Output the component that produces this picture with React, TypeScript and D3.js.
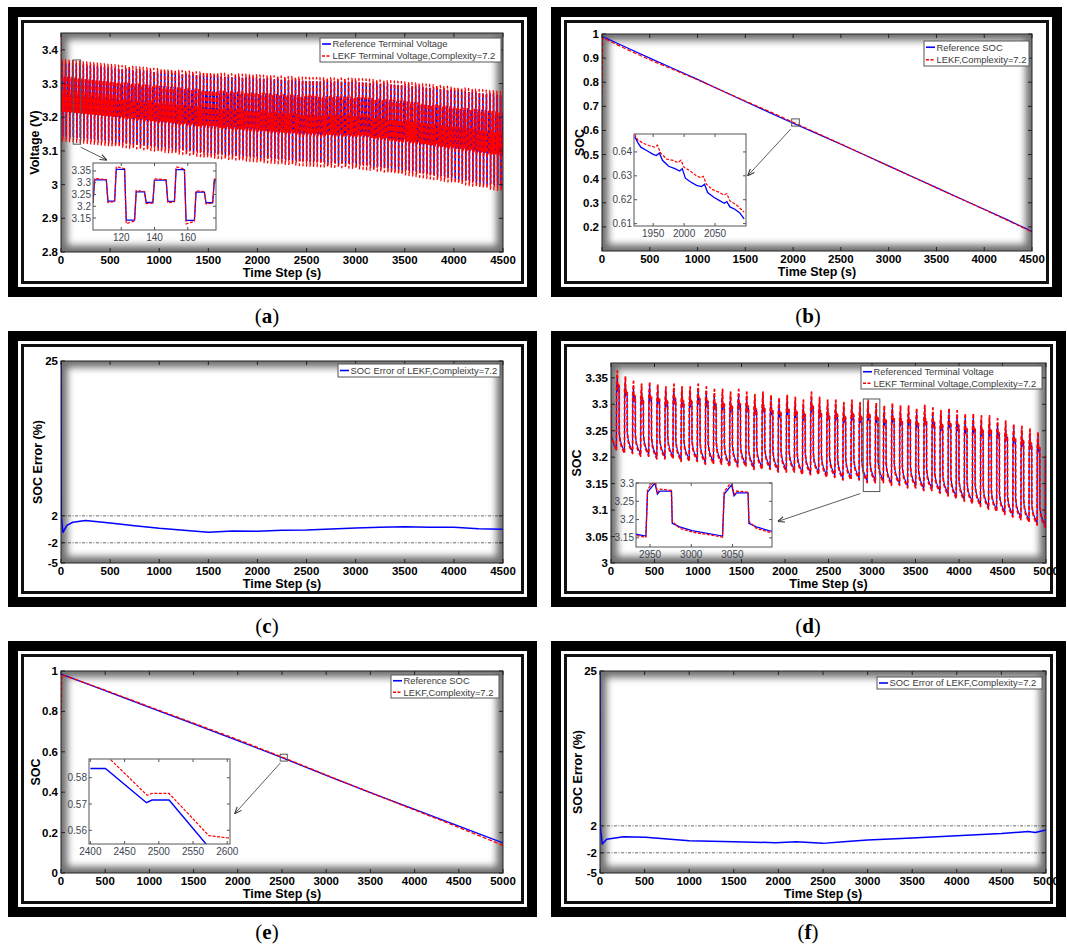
import * as d3 from "d3";
import { useEffect } from "react";

type Pt = [number, number];

// ---------- (a) terminal voltage, 4500 s test ----------
const voltA_t = [0, 500, 1000, 1500, 2000, 2500, 3000, 3500, 4000, 4500];
const voltA_mid = [3.245, 3.23, 3.215, 3.2, 3.19, 3.18, 3.175, 3.16, 3.14, 3.12];
const voltA_swing = [1, 1, 1.02, 1.05, 1.08, 1.1, 1.12, 1.16, 1.2, 1.25];
// one 36 s pulse: level offset from the mid band and duration (s)
const pulseA_offset = [0.07, -0.02, 0.115, -0.1, 0.02, -0.025];
const pulseA_dur = [8, 5, 6, 6, 6, 5];
const pulseA_lekf = [0.006, -0.006, 0.012, -0.015, 0.006, -0.005];
const pulseA_first = -4;

// ---------- (b) SOC, 4500 s test ----------
const socB_t = [0, 250, 500, 750, 1000, 1250, 1500, 1750, 2000, 2250, 2500, 2750, 3000, 3250, 3500, 3750, 4000, 4250, 4500];
const socB_ref = [0.99, 0.945, 0.9, 0.856, 0.812, 0.766, 0.72, 0.675, 0.63, 0.587, 0.543, 0.498, 0.453, 0.408, 0.363, 0.318, 0.273, 0.228, 0.181];
const socB_lekfT = [0, 8, 250, 500, 750, 1000, 1250, 1500, 1750, 2000, 2250, 2500, 2750, 3000, 3250, 3500, 3750, 4000, 4250, 4500];
const socB_lekf = [0.75, 0.985, 0.938, 0.893, 0.852, 0.81, 0.766, 0.722, 0.679, 0.634, 0.589, 0.544, 0.498, 0.452, 0.407, 0.362, 0.317, 0.272, 0.226, 0.179];
const zoomB_refT = [1920, 1925, 1930, 1940, 1950, 1955, 1960, 1965, 1975, 1985, 1993, 1997, 2002, 2010, 2020, 2028, 2033, 2038, 2048, 2058, 2065, 2069, 2074, 2082, 2090, 2097];
const zoomB_ref = [0.6465, 0.644, 0.642, 0.6405, 0.639, 0.6385, 0.6395, 0.6365, 0.634, 0.633, 0.632, 0.633, 0.629, 0.6275, 0.626, 0.6255, 0.6265, 0.623, 0.621, 0.6195, 0.6185, 0.6192, 0.617, 0.616, 0.6145, 0.612];
const zoomB_lekfT = [1920, 1925, 1935, 1945, 1952, 1957, 1962, 1972, 1982, 1990, 1995, 2000, 2010, 2020, 2027, 2031, 2036, 2046, 2056, 2064, 2069, 2074, 2084, 2092, 2097];
const zoomB_lekf = [0.6475, 0.645, 0.6435, 0.6425, 0.642, 0.6428, 0.6395, 0.637, 0.6365, 0.6355, 0.6365, 0.6335, 0.632, 0.63, 0.6292, 0.6298, 0.6265, 0.6242, 0.6232, 0.622, 0.6225, 0.6195, 0.618, 0.616, 0.6148];

// ---------- (c) SOC error, 4500 s test ----------
const errC_t = [0, 3, 20, 60, 120, 250, 500, 750, 1000, 1250, 1500, 1750, 2000, 2250, 2500, 2750, 3000, 3250, 3500, 3750, 4000, 4250, 4500];
const errC = [25, 2, -0.45, 0.6, 1.05, 1.3, 0.93, 0.54, 0.15, -0.15, -0.44, -0.24, -0.3, -0.15, -0.1, 0.05, 0.2, 0.3, 0.4, 0.3, 0.3, 0.1, 0.0];

// ---------- (d) terminal voltage, 5000 s test ----------
const startD_t = [0, 4, 30, 62];
const startD_ref = [3.29, 3.24, 3.225, 3.215];
const startD_lekf = [3.3, 3.235, 3.228, 3.212];
const cycleD_first = 63;
const cycleD_period = 93;
const cycleD_peak = [
  3.355, 3.345, 3.335, 3.33, 3.335, 3.33, 3.325, 3.33, 3.325, 3.325,
  3.33, 3.325, 3.32, 3.32, 3.315, 3.32, 3.315, 3.31, 3.315, 3.31,
  3.305, 3.31, 3.305, 3.3, 3.315, 3.305, 3.3, 3.3, 3.295, 3.3,
  3.295, 3.3, 3.295, 3.29, 3.295, 3.29, 3.29, 3.285, 3.29, 3.285,
  3.28, 3.285, 3.28, 3.275, 3.275, 3.27, 3.27, 3.265, 3.26, 3.255,
  3.25, 3.245, 3.24, 3.22,
];
const cycleD_low = [
  3.21, 3.21, 3.205, 3.205, 3.2, 3.2, 3.2, 3.195, 3.195, 3.195,
  3.19, 3.19, 3.19, 3.185, 3.185, 3.185, 3.18, 3.18, 3.18, 3.175,
  3.175, 3.175, 3.17, 3.17, 3.17, 3.165, 3.165, 3.16, 3.16, 3.16,
  3.155, 3.155, 3.155, 3.15, 3.15, 3.145, 3.145, 3.14, 3.14, 3.135,
  3.13, 3.125, 3.12, 3.115, 3.11, 3.105, 3.1, 3.095, 3.09, 3.085,
  3.08, 3.075, 3.07, 3.065,
];
// shape of one cycle: seconds after the rise, which level it hangs on, offset
const cycleD_shapeT = [1, 10, 13, 16, 30, 31, 40, 55, 92];
const cycleD_shapeOn = ["hi", "hi", "hi", "hi", "hi", "lo", "lo", "lo", "lo"];
const cycleD_ref = [-0.025, 0, -0.03, -0.022, -0.022, 0.035, 0.025, 0.015, 0];
const cycleD_lekf = [-0.018, 0.008, -0.026, -0.017, -0.02, 0.04, 0.021, 0.011, -0.003];

// ---------- (e) SOC, 5000 s test ----------
const socE_t = [0, 500, 1000, 1500, 2000, 2500, 3000, 3500, 4000, 4500, 5000];
const socE_ref = [0.985, 0.903, 0.82, 0.738, 0.655, 0.571, 0.483, 0.398, 0.315, 0.232, 0.149];
const socE_lekfT = [0, 10, 500, 1000, 1500, 2000, 2500, 3000, 3500, 4000, 4500, 5000];
const socE_lekf = [0.75, 0.982, 0.905, 0.823, 0.742, 0.66, 0.574, 0.485, 0.398, 0.312, 0.226, 0.137];
const zoomE_refT = [2400, 2422, 2482, 2490, 2515, 2570];
const zoomE_ref = [0.5835, 0.5835, 0.5705, 0.5715, 0.5715, 0.5545];
const zoomE_lekfT = [2400, 2429, 2483, 2490, 2515, 2573, 2605];
const zoomE_lekf = [0.5905, 0.587, 0.5733, 0.574, 0.574, 0.558, 0.557];

// ---------- (f) SOC error, 5000 s test ----------
const errF_t = [0, 3, 25, 75, 265, 510, 1000, 1500, 1970, 2200, 2500, 2730, 3000, 3500, 4000, 4500, 4800, 4880, 5000];
const errF = [25, 2, -0.7, 0.0, 0.4, 0.3, -0.2, -0.35, -0.5, -0.35, -0.6, -0.35, -0.1, 0.2, 0.55, 0.85, 1.15, 1.0, 1.4];

const ticks4500 = [0, 500, 1000, 1500, 2000, 2500, 3000, 3500, 4000, 4500];
const ticks5000 = [0, 500, 1000, 1500, 2000, 2500, 3000, 3500, 4000, 4500, 5000];

const BLUE = "#0000ff";
const RED = "#ff0000";
const SANS = "'Liberation Sans', Arial, sans-serif";

const zip = (ts: number[], vs: number[]): Pt[] => ts.map((t, i) => [t, vs[i]]);
const fmt = (v: number) => String(+v.toFixed(3));

function buildVoltA() {
  const mid = d3.scaleLinear().domain(voltA_t).range(voltA_mid);
  const swing = d3.scaleLinear().domain(voltA_t).range(voltA_swing);
  const period = d3.sum(pulseA_dur);
  const ref: Pt[] = [];
  const lekf: Pt[] = [[0, 3.44]];
  for (let c0 = pulseA_first; c0 < 4500; c0 += period) {
    let t = c0;
    pulseA_offset.forEach((off, i) => {
      const a = Math.max(t, 0);
      const b = Math.min(t + pulseA_dur[i] - 1, 4500);
      t += pulseA_dur[i];
      if (b < a) return;
      const v = mid(a) + off * swing(a);
      ref.push([a, v], [b, v]);
      lekf.push([a, v + pulseA_lekf[i]], [b, v + pulseA_lekf[i] * 0.3]);
    });
  }
  return { ref, lekf };
}

function buildVoltD() {
  const ref: Pt[] = zip(startD_t, startD_ref);
  const lekf: Pt[] = zip(startD_t, startD_lekf);
  cycleD_peak.forEach((hi, k) => {
    const t0 = cycleD_first + k * cycleD_period;
    cycleD_shapeT.forEach((dt, j) => {
      const t = t0 + dt;
      if (t > 5000) return;
      const base = cycleD_shapeOn[j] === "hi" ? hi : cycleD_low[k];
      ref.push([t, base + cycleD_ref[j]]);
      lekf.push([t, base + cycleD_lekf[j]]);
    });
  });
  return { ref, lekf };
}

type Series = { pts: Pt[]; color: string; dash?: string; width: number };
type Box = [number, number, number, number];

function Frame({ f }: { f: Box }) {
  const [x0, y0, x1, y1] = f;
  const r = (i: number, fill: string) => (
    <rect x={x0 + i} y={y0 + i} width={x1 - x0 - 2 * i} height={y1 - y0 - 2 * i} fill={fill} />
  );
  return (
    <g>
      {r(0, "#000")}
      {r(10, "#fff")}
      {r(13, "#111")}
      {r(16, "#fff")}
    </g>
  );
}

function Inset({ id, s }: { id: string; s: any }) {
  const [x0, y0, x1, y1] = s.box as Box;
  const x = d3.scaleLinear().domain(s.xDomain).range([x0, x1]);
  const y = d3.scaleLinear().domain(s.yDomain).range([y1, y0]);
  const line = d3.line<Pt>().x((d) => x(d[0])).y((d) => y(d[1]));
  const col = "#3c4650";
  return (
    <g>
      <clipPath id={`clip-in-${id}`}>
        <rect x={x0} y={y0} width={x1 - x0} height={y1 - y0} />
      </clipPath>
      <rect x={x0} y={y0} width={x1 - x0} height={y1 - y0} fill="#fff" />
      <g clipPath={`url(#clip-in-${id})`}>
        {s.series.map((sr: Series, i: number) => (
          <path key={i} d={line(sr.pts) || ""} fill="none" stroke={sr.color} strokeWidth={sr.width} strokeDasharray={sr.dash} />
        ))}
      </g>
      <rect x={x0} y={y0} width={x1 - x0} height={y1 - y0} fill="none" stroke="#555" strokeWidth={1} />
      {s.xTicks.map((t: number) => (
        <g key={`x${t}`}>
          <line x1={x(t)} x2={x(t)} y1={y1} y2={y1 - 3} stroke="#555" />
          <line x1={x(t)} x2={x(t)} y1={y0} y2={y0 + 3} stroke="#555" />
          <text x={x(t)} y={y1 + 11} textAnchor="middle" fontSize={10} fill={col} fontFamily={SANS}>{t}</text>
        </g>
      ))}
      {s.yTicks.map((v: number) => (
        <g key={`y${v}`}>
          <line x1={x0} x2={x0 + 3} y1={y(v)} y2={y(v)} stroke="#555" />
          <line x1={x1} x2={x1 - 3} y1={y(v)} y2={y(v)} stroke="#555" />
          <text x={x0 - 2} y={y(v) + 3.5} textAnchor="end" fontSize={10} fill={col} fontFamily={SANS}>{fmt(v)}</text>
        </g>
      ))}
    </g>
  );
}

function Panel({ p }: { p: any }) {
  const [px0, py0, px1, py1] = p.plot as Box;
  const x = d3.scaleLinear().domain(p.xDomain).range([px0, px1]);
  const y = d3.scaleLinear().domain(p.yDomain).range([py1, py0]);
  const line = d3.line<Pt>().x((d) => x(d[0])).y((d) => y(d[1]));
  const [lx0, ly0, lx1, ly1] = p.legend.box as Box;
  const rowH = (ly1 - ly0) / p.legend.items.length;

  let arrow = null;
  if (p.marker && p.inset) {
    const m = p.marker;
    const mx0 = x(m.x[0]), mx1 = x(m.x[1]), my0 = y(m.y[1]), my1 = y(m.y[0]);
    const sx = (p.arrow.from === "br" ? mx1 : mx0) + p.arrow.fromOff[0];
    const sy = my1 + p.arrow.fromOff[1];
    const [ix0, iy0, ix1, iy1] = p.inset.box as Box;
    const ex = ix0 + p.arrow.to[0] * (ix1 - ix0) + p.arrow.to[2];
    const ey = iy0 + p.arrow.to[1] * (iy1 - iy0) + p.arrow.to[3];
    arrow = (
      <g>
        <rect x={mx0} y={my0} width={mx1 - mx0} height={my1 - my0} fill="none" stroke="#555" strokeWidth={1} />
        <line x1={sx} y1={sy} x2={ex} y2={ey} stroke="#333" strokeWidth={0.8} markerEnd="url(#arrowhead)" />
      </g>
    );
  }

  return (
    <g>
      <Frame f={p.frame} />
      <clipPath id={`clip-${p.id}`}>
        <rect x={px0} y={py0} width={px1 - px0} height={py1 - py0} />
      </clipPath>
      <g clipPath={`url(#clip-${p.id})`}>
        <rect x={px0} y={py0} width={px1 - px0} height={py1 - py0} fill="none" stroke="#707070" strokeWidth={13} filter="url(#vignette)" />
      </g>
      <g clipPath={`url(#clip-${p.id})`}>
        {(p.refLines || []).map((v: number) => (
          <line key={v} x1={px0} x2={px1} y1={y(v)} y2={y(v)} stroke="#444" strokeWidth={0.8} strokeDasharray="3 1.5 1 1.5" />
        ))}
        {p.series.map((sr: Series, i: number) => (
          <path key={i} d={line(sr.pts) || ""} fill="none" stroke={sr.color} strokeWidth={sr.width} strokeDasharray={sr.dash} strokeLinejoin="round" />
        ))}
      </g>
      <rect x={px0} y={py0} width={px1 - px0} height={py1 - py0} fill="none" stroke="#222" strokeWidth={1} />
      {p.xTicks.map((t: number) => (
        <g key={`x${t}`}>
          <line x1={x(t)} x2={x(t)} y1={py1} y2={py1 - 4} stroke="#222" />
          <line x1={x(t)} x2={x(t)} y1={py0} y2={py0 + 4} stroke="#222" />
          <text x={x(t)} y={py1 + 12} textAnchor="middle" fontSize={11.5} fontWeight="bold" fontFamily={SANS}>{t}</text>
        </g>
      ))}
      {p.yTicks.map((v: number) => (
        <g key={`y${v}`}>
          <line x1={px0} x2={px0 + 4} y1={y(v)} y2={y(v)} stroke="#222" />
          <line x1={px1} x2={px1 - 4} y1={y(v)} y2={y(v)} stroke="#222" />
          <text x={px0 - 3} y={y(v) + 4} textAnchor="end" fontSize={11.5} fontWeight="bold" fontFamily={SANS}>{fmt(v)}</text>
        </g>
      ))}
      <text x={(px0 + px1) / 2} y={py1 + 25} textAnchor="middle" fontSize={12.5} fontWeight="bold" fontFamily={SANS}>Time Step (s)</text>
      <text transform={`translate(${p.yLabelX},${(py0 + py1) / 2}) rotate(-90)`} textAnchor="middle" dominantBaseline="central" fontSize={12.5} fontWeight={p.yLabelBold ? "bold" : "normal"} fontFamily={SANS}>{p.yLabel}</text>

      {p.inset && <Inset id={p.id} s={p.inset} />}
      {arrow}

      <rect x={lx0} y={ly0} width={lx1 - lx0} height={ly1 - ly0} fill="#fff" stroke="#555" strokeWidth={1} />
      {p.legend.items.map((it: any, i: number) => {
        const cy = ly0 + rowH * (i + 0.5);
        return (
          <g key={i}>
            <line x1={lx0 + 2} x2={lx0 + 11} y1={cy} y2={cy} stroke={it.color} strokeWidth={1.6} strokeDasharray={it.dash ? "3 1.5" : undefined} />
            <text x={lx0 + 12.5} y={cy + 3.3} fontSize={9.4} fill="#3a3a3a" fontFamily={SANS}>{it.label}</text>
          </g>
        );
      })}

      <text x={p.caption[1]} y={p.caption[2]} textAnchor="middle" fontSize={21} fontFamily="'Liberation Serif', 'DejaVu Serif', serif">
        (<tspan fontWeight="bold">{p.caption[0]}</tspan>)
      </text>
    </g>
  );
}

export default function App() {
  useEffect(() => {
    document.body.style.margin = "0";
  }, []);

  const voltA = buildVoltA();
  const voltD = buildVoltD();

  const seriesA: Series[] = [
    { pts: voltA.ref, color: BLUE, width: 1.1 },
    { pts: voltA.lekf, color: RED, dash: "4 2", width: 1.3 },
  ];
  const seriesD: Series[] = [
    { pts: voltD.ref, color: BLUE, width: 1.1 },
    { pts: voltD.lekf, color: RED, dash: "4 2", width: 1.8 },
  ];

  const panels = [
    {
      id: "a", frame: [8, 7, 537, 297], plot: [61, 33, 503, 252],
      xDomain: [0, 4500], yDomain: [2.8, 3.45], xTicks: ticks4500,
      yTicks: [2.8, 2.9, 3, 3.1, 3.2, 3.3, 3.4],
      yLabel: "Voltage (V)", yLabelX: 35, yLabelBold: true,
      series: seriesA,
      legend: { box: [320, 38, 501, 62], items: [
        { label: "Reference Terminal Voltage", color: BLUE },
        { label: "LEKF Terminal Voltage,Complexity=7.2", color: RED, dash: true },
      ] },
      inset: { box: [93, 163, 216, 230], xDomain: [103, 177], yDomain: [3.099, 3.384],
        xTicks: [120, 140, 160], yTicks: [3.15, 3.2, 3.25, 3.3, 3.35],
        series: [
          { pts: voltA.ref, color: BLUE, width: 1.3 },
          { pts: voltA.lekf, color: RED, dash: "3 1.5", width: 1.2 },
        ] },
      marker: { x: [125, 200], y: [3.12, 3.37] },
      arrow: { from: "br", fromOff: [0, 3], to: [0.11, 0, 0, -3] },
      caption: ["a", 267, 323],
    },
    {
      id: "b", frame: [551, 7, 1062, 297], plot: [602, 34, 1032, 251],
      xDomain: [0, 4500], yDomain: [0.1, 1], xTicks: ticks4500,
      yTicks: [0.2, 0.3, 0.4, 0.5, 0.6, 0.7, 0.8, 0.9, 1],
      yLabel: "SOC", yLabelX: 580, yLabelBold: true,
      series: [
        { pts: zip(socB_t, socB_ref), color: BLUE, width: 1.2 },
        { pts: zip(socB_lekfT, socB_lekf), color: RED, dash: "4 2", width: 1.2 },
      ],
      legend: { box: [924, 41, 1029, 66], items: [
        { label: "Reference SOC", color: BLUE },
        { label: "LEKF,Complexity=7.2", color: RED, dash: true },
      ] },
      inset: { box: [634, 134, 746, 226], xDomain: [1919, 2100], yDomain: [0.609, 0.6475],
        xTicks: [1950, 2000, 2050], yTicks: [0.61, 0.62, 0.63, 0.64],
        series: [
          { pts: zip(zoomB_refT, zoomB_ref), color: BLUE, width: 1.3 },
          { pts: zip(zoomB_lekfT, zoomB_lekf), color: RED, dash: "3 1.5", width: 1.2 },
        ] },
      marker: { x: [1985, 2065], y: [0.618, 0.648] },
      arrow: { from: "bl", fromOff: [-1, 3], to: [1, 0.45, 2, 0] },
      caption: ["b", 808, 323],
    },
    {
      id: "c", frame: [8, 331, 537, 607], plot: [61, 361, 503, 563],
      xDomain: [0, 4500], yDomain: [-5, 25], xTicks: ticks4500, yTicks: [-5, -2, 2, 25],
      yLabel: "SOC Error (%)", yLabelX: 38, yLabelBold: true,
      refLines: [2, -2],
      series: [{ pts: zip(errC_t, errC), color: BLUE, width: 1.5 }],
      legend: { box: [338, 364, 500, 377], items: [
        { label: "SOC Error of LEKF,Compleixty=7.2", color: BLUE },
      ] },
      caption: ["c", 267, 633],
    },
    {
      id: "d", frame: [551, 331, 1066, 607], plot: [611, 363, 1046, 563],
      xDomain: [0, 5000], yDomain: [3, 3.378], xTicks: ticks5000,
      yTicks: [3, 3.05, 3.1, 3.15, 3.2, 3.25, 3.3, 3.35],
      yLabel: "SOC", yLabelX: 577, yLabelBold: true,
      series: seriesD,
      legend: { box: [861, 366, 1042, 389], items: [
        { label: "Referenced Terminal Voltage", color: BLUE },
        { label: "LEKF Terminal Voltage,Complexity=7.2", color: RED, dash: true },
      ] },
      inset: { box: [636, 483, 772, 547], xDomain: [2933, 3098], yDomain: [3.125, 3.3],
        xTicks: [2950, 3000, 3050], yTicks: [3.15, 3.2, 3.25, 3.3],
        series: [
          { pts: voltD.ref, color: BLUE, width: 1.3 },
          { pts: voltD.lekf, color: RED, dash: "3 1.5", width: 1.3 },
        ] },
      marker: { x: [2900, 3090], y: [3.135, 3.31] },
      arrow: { from: "bl", fromOff: [-3, 2], to: [1, 0.6, 6, 0] },
      caption: ["d", 808, 633],
    },
    {
      id: "e", frame: [8, 641, 537, 917], plot: [61, 671, 503, 873],
      xDomain: [0, 5000], yDomain: [0, 1], xTicks: ticks5000,
      yTicks: [0, 0.2, 0.4, 0.6, 0.8, 1],
      yLabel: "SOC", yLabelX: 36, yLabelBold: true,
      series: [
        { pts: zip(socE_t, socE_ref), color: BLUE, width: 1.3 },
        { pts: zip(socE_lekfT, socE_lekf), color: RED, dash: "4 2", width: 1.3 },
      ],
      legend: { box: [391, 675, 499, 698], items: [
        { label: "Reference SOC", color: BLUE },
        { label: "LEKF,Complexity=7.2", color: RED, dash: true },
      ] },
      inset: { box: [89, 759, 230, 844], xDomain: [2398, 2604], yDomain: [0.5548, 0.5871],
        xTicks: [2400, 2450, 2500, 2550, 2600], yTicks: [0.56, 0.57, 0.58],
        series: [
          { pts: zip(zoomE_refT, zoomE_ref), color: BLUE, width: 1.4 },
          { pts: zip(zoomE_lekfT, zoomE_lekf), color: RED, dash: "3 1.5", width: 1.2 },
        ] },
      marker: { x: [2480, 2560], y: [0.554, 0.588] },
      arrow: { from: "bl", fromOff: [0, 2], to: [1, 0.64, 5, 0] },
      caption: ["e", 267, 939],
    },
    {
      id: "f", frame: [551, 641, 1066, 917], plot: [600, 671, 1046, 873],
      xDomain: [0, 5000], yDomain: [-5, 25], xTicks: ticks5000, yTicks: [-5, -2, 2, 25],
      yLabel: "SOC Error (%)", yLabelX: 578, yLabelBold: true,
      refLines: [2, -2],
      series: [{ pts: zip(errF_t, errF), color: BLUE, width: 1.5 }],
      legend: { box: [877, 677, 1042, 689], items: [
        { label: "SOC Error of LEKF,Complexity=7.2", color: BLUE },
      ] },
      caption: ["f", 808, 939],
    },
  ];

  return (
    <svg width={1067} height={946} style={{ display: "block", position: "absolute", left: 0, top: 0, background: "#fff" }}>
      <defs>
        <filter id="vignette" x="-10%" y="-10%" width="120%" height="120%">
          <feGaussianBlur stdDeviation={3.5} />
        </filter>
        <marker id="arrowhead" viewBox="0 0 8 8" refX={7.5} refY={4} markerWidth={7} markerHeight={7} markerUnits="userSpaceOnUse" orient="auto">
          <path d="M0,0.8 L8,4 L0,7.2" fill="none" stroke="#333" strokeWidth={1.2} />
        </marker>
      </defs>
      <rect width={1067} height={946} fill="#fff" />
      {panels.map((p) => (
        <Panel key={p.id} p={p} />
      ))}
    </svg>
  );
}
